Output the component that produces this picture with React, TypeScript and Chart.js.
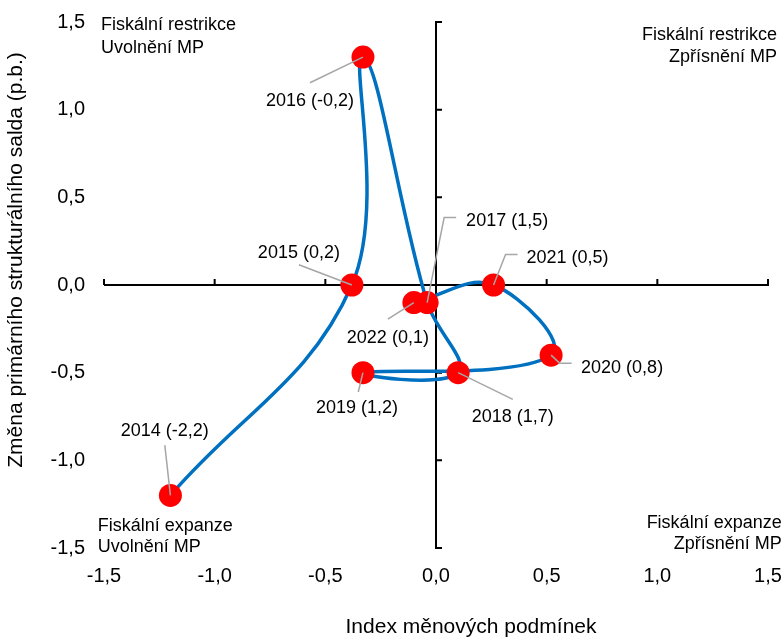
import React, { useEffect, useRef } from "react";
import { Chart, registerables } from "chart.js";

Chart.register(...registerables);

// ---- data ----
const years = ["2014", "2015", "2016", "2017", "2018", "2019", "2020", "2021", "2022"];
const xValues = [-1.2, -0.38, -0.33, -0.04, 0.1, -0.33, 0.52, 0.26, -0.1];
const yValues = [-1.2, 0.0, 1.3, -0.1, -0.5, -0.5, -0.4, 0.0, -0.1];
const bracketValues = ["-2,2", "0,2", "-0,2", "1,5", "1,7", "1,2", "0,8", "0,5", "0,1"];
const xTicks = [-1.5, -1.0, -0.5, 0.0, 0.5, 1.0, 1.5];
const yTicks = [-1.5, -1.0, -0.5, 0.0, 0.5, 1.0, 1.5];
const xTitle = "Index měnových podmínek";
const yTitle = "Změna primárního strukturálního salda (p.b.)";
const quadrantTL = ["Fiskální restrikce", "Uvolnění MP"];
const quadrantTR = ["Fiskální restrikce", "Zpřísnění MP"];
const quadrantBL = ["Fiskální expanze", "Uvolnění MP"];
const quadrantBR = ["Fiskální expanze", "Zpřísnění MP"];

// ---- styles / label placement (pixel offsets from the point) ----
const FONT = "'Liberation Sans', Arial, Helvetica, sans-serif";
type LabelPlace = { dx: number; dy: number; lead: [number, number][] };
// lead: leader-line points relative to label centre
const labelPlace: LabelPlace[] = [
  { dx: -5.6, dy: -65.7, lead: [[0, 15.5]] },
  { dx: -53, dy: -34, lead: [[0, 13.7]] },
  { dx: -53, dy: 42.7, lead: [[0, -17]] },
  { dx: 80, dy: -83, lead: [[-63, -2], [-51, -2]] },
  { dx: 54.7, dy: 42.7, lead: [[0, -16]] },
  { dx: -6, dy: 34.3, lead: [[1.3, -15]] },
  { dx: 71, dy: 11, lead: [[-62.5, -3], [-50.5, -3]] },
  { dx: 74, dy: -29, lead: [[-62, -1.5], [-50, -1.5]] },
  { dx: -26, dy: 34, lead: [[0, -17.5]] },
];

const fmt = (v: number) => (Math.abs(v) < 1e-9 ? 0 : v).toFixed(1).replace(".", ",");

const crossAxesPlugin = {
  id: "crossAxes",
  beforeDatasetsDraw(chart: any) {
    const { ctx, chartArea } = chart;
    const xs = chart.scales.x;
    const ys = chart.scales.y;
    const x0 = xs.getPixelForValue(0);
    const y0 = ys.getPixelForValue(0);
    ctx.save();
    ctx.strokeStyle = "#000000";
    ctx.lineWidth = 2;
    ctx.beginPath();
    ctx.moveTo(chartArea.left, y0);
    ctx.lineTo(chartArea.right + 1, y0);
    ctx.moveTo(x0, chartArea.top - 1);
    ctx.lineTo(x0, chartArea.bottom + 1);
    xTicks.forEach((v) => {
      const px = xs.getPixelForValue(v);
      ctx.moveTo(px, y0);
      ctx.lineTo(px, y0 - 6);
    });
    yTicks.forEach((v) => {
      const py = ys.getPixelForValue(v);
      ctx.moveTo(x0, py);
      ctx.lineTo(x0 + 6, py);
    });
    ctx.stroke();
    ctx.restore();
  },
};

const labelsPlugin = {
  id: "pointLabels",
  afterDatasetsDraw(chart: any) {
    const { ctx, chartArea } = chart;
    const xs = chart.scales.x;
    const ys = chart.scales.y;
    ctx.save();
    // leader lines
    ctx.strokeStyle = "#A6A6A6";
    ctx.lineWidth = 1.5;
    years.forEach((yr, i) => {
      const px = xs.getPixelForValue(xValues[i]);
      const py = ys.getPixelForValue(yValues[i]);
      const p = labelPlace[i];
      const lx = px + p.dx;
      const ly = py + p.dy;
      ctx.beginPath();
      ctx.moveTo(px, py);
      p.lead.forEach(([ax, ay]) => ctx.lineTo(lx + ax, ly + ay));
      ctx.stroke();
    });
    // label text
    ctx.fillStyle = "#000000";
    ctx.font = `18px ${FONT}`;
    ctx.textAlign = "center";
    ctx.textBaseline = "alphabetic";
    years.forEach((yr, i) => {
      const px = xs.getPixelForValue(xValues[i]);
      const py = ys.getPixelForValue(yValues[i]);
      const p = labelPlace[i];
      ctx.fillText(`${yr} (${bracketValues[i]})`, px + p.dx, py + p.dy + 6.5);
    });
    // quadrant labels
    ctx.textAlign = "left";
    ctx.fillText(quadrantTL[0], chartArea.left - 3, chartArea.top + 8);
    ctx.fillText(quadrantTL[1], chartArea.left - 3, chartArea.top + 30.5);
    ctx.fillText(quadrantBL[0], chartArea.left - 6.3, chartArea.bottom - 17.3);
    ctx.fillText(quadrantBL[1], chartArea.left - 6.3, chartArea.bottom + 3.7);
    ctx.textAlign = "right";
    ctx.fillText(quadrantTR[0], chartArea.right + 9, chartArea.top + 18);
    ctx.fillText(quadrantTR[1], chartArea.right + 9, chartArea.top + 39.7);
    ctx.fillText(quadrantBR[0], chartArea.right + 13.7, chartArea.bottom - 20);
    ctx.fillText(quadrantBR[1], chartArea.right + 13.7, chartArea.bottom + 1);

    // axis titles
    ctx.font = `21px ${FONT}`;
    ctx.textAlign = "center";
    ctx.textBaseline = "alphabetic";
    ctx.fillText(xTitle, (chartArea.left + chartArea.right) / 2 + 35, chart.height - 4);
    ctx.save();
    ctx.translate(16, (chartArea.top + chartArea.bottom) / 2 - 25);
    ctx.rotate(-Math.PI / 2);
    ctx.textBaseline = "middle";
    ctx.fillText(yTitle, 0, 0);
    ctx.restore();
    ctx.restore();
  },
};

export default function App() {
  const canvasRef = useRef<HTMLCanvasElement | null>(null);

  useEffect(() => {
    const canvas = canvasRef.current;
    if (!canvas) return;
    const chart = new Chart(canvas, {
      type: "scatter",
      data: {
        datasets: [
          {
            data: xValues.map((x, i) => ({ x, y: yValues[i] })),
            showLine: true,
            borderColor: "#0070C0",
            borderWidth: 3.5,
            tension: 0.4,
            pointRadius: 11.5,
            pointHoverRadius: 11.5,
            pointBackgroundColor: "#FF0000",
            pointBorderColor: "#FF0000",
            pointBorderWidth: 0,
            clip: false,
          } as any,
        ],
      },
      options: {
        animation: false,
        responsive: false,
        maintainAspectRatio: false,
        events: [],
        layout: { padding: { top: 22, right: 16, left: 0, bottom: 0 } },
        plugins: {
          legend: { display: false },
          tooltip: { enabled: false },
        },
        scales: {
          x: {
            type: "linear",
            min: -1.5,
            max: 1.5,
            afterBuildTicks: (s: any) => {
              s.ticks = xTicks.map((v) => ({ value: v }));
            },
            afterFit: (s: any) => {
              s.height = 89;
              s.paddingLeft = 0;
              s.paddingRight = 0;
            },
            grid: { display: false, drawTicks: false },
            border: { display: false },
            ticks: {
              padding: 16,
              maxRotation: 0,
              autoSkip: false,
              color: "#000000",
              font: { size: 20, family: FONT },
              callback: (v: any) => fmt(Number(v)),
            },
            title: { display: false },
          },
          y: {
            type: "linear",
            min: -1.5,
            max: 1.5,
            afterBuildTicks: (s: any) => {
              s.ticks = yTicks.map((v) => ({ value: v }));
            },
            afterFit: (s: any) => {
              s.width = 104;
              s.paddingTop = 0;
              s.paddingBottom = 0;
            },
            grid: { display: false, drawTicks: false },
            border: { display: false },
            ticks: {
              padding: 19,
              autoSkip: false,
              color: "#000000",
              font: { size: 20, family: FONT },
              callback: (v: any) => fmt(Number(v)),
            },
            title: { display: false },
          },
        },
      },
      plugins: [crossAxesPlugin, labelsPlugin],
    } as any);
    return () => chart.destroy();
  }, []);

  return (
    <div style={{ position: "fixed", left: 0, top: 0, width: 784, height: 637, background: "#ffffff" }}>
      <canvas ref={canvasRef} width={784} height={637} style={{ display: "block", width: 784, height: 637 }} />
    </div>
  );
}
